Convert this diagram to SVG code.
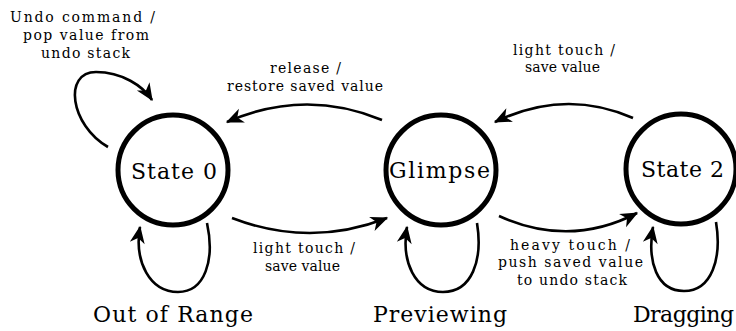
<svg xmlns="http://www.w3.org/2000/svg" width="736" height="331" viewBox="0 0 736 331">
<style>
.st{fill:none;stroke:#000;stroke-width:5}
.ar{fill:none;stroke:#000;stroke-width:2.6;marker-end:url(#ah)}
.nm{font-family:"DejaVu Serif","Liberation Serif",serif;font-size:22px;fill:#000}
.lb{font-family:"DejaVu Serif","Liberation Serif",serif;font-size:14px;fill:#000}
</style>
<defs>
<marker id="ah" markerUnits="userSpaceOnUse" markerWidth="20" markerHeight="20" viewBox="-14 -7 16 14" refX="0" refY="0" orient="auto">
<path d="M1,0 L-13,-6 L-9,0 L-13,6 Z" fill="#000"/>
</marker>
</defs>
<rect width="736" height="331" fill="#fff"/>
<g id="connectors">
<path class="ar" d="M382,120 Q305,88 227,122"/>
<path class="ar" d="M232,218 Q310,248 387,218"/>
<path class="ar" d="M633,118 Q565,88 495,122"/>
<path class="ar" d="M499,216 Q570,248 637,213"/>
<path class="ar" d="M108,147 C70,125 63,72 96,72 C122,72 143,86 152,100"/>
<path class="ar" d="M207,223 C215,260 205,292 178,292 C150,292 134,262 140,227"/>
<path class="ar" d="M477,223 C483,260 472,292 443,292 C415,292 401,262 407,227"/>
<path class="ar" d="M716,222 C722,258 712,291 684,291 C657,291 647,262 653,227"/>
</g>
<g id="labels">
<text class="lb" x="10" y="22" textLength="145" lengthAdjust="spacing">Undo command /</text>
<text class="lb" x="23" y="40" textLength="126" lengthAdjust="spacing">pop value from</text>
<text class="lb" x="41" y="58" textLength="89" lengthAdjust="spacing">undo stack</text>
<text class="lb" x="270" y="73" textLength="71" lengthAdjust="spacing">release /</text>
<text class="lb" x="227" y="91" textLength="156" lengthAdjust="spacing">restore saved value</text>
<text class="lb" x="513" y="55" textLength="102" lengthAdjust="spacing">light touch /</text>
<text class="lb" x="525" y="72" textLength="75" lengthAdjust="spacing">save value</text>
<text class="lb" x="253" y="253" textLength="102" lengthAdjust="spacing">light touch /</text>
<text class="lb" x="265" y="271" textLength="75" lengthAdjust="spacing">save value</text>
<text class="lb" x="510" y="250" textLength="120" lengthAdjust="spacing">heavy touch /</text>
<text class="lb" x="498" y="267" textLength="145" lengthAdjust="spacing">push saved value</text>
<text class="lb" x="517" y="285" textLength="110" lengthAdjust="spacing">to undo stack</text>
</g>
<g id="state0">
<circle class="st" cx="173" cy="170" r="55"/>
<text class="nm" x="131" y="179" textLength="86" lengthAdjust="spacing">State 0</text>
<text class="nm" x="93" y="322" textLength="160" lengthAdjust="spacing">Out of Range</text>
</g>
<g id="glimpse">
<circle class="st" cx="441" cy="170" r="55"/>
<text class="nm" x="389" y="178" textLength="101" lengthAdjust="spacing">Glimpse</text>
<text class="nm" x="373" y="322" textLength="134" lengthAdjust="spacing">Previewing</text>
</g>
<g id="state2">
<circle class="st" cx="681" cy="169" r="55"/>
<text class="nm" x="641" y="177" textLength="83" lengthAdjust="spacing">State 2</text>
<text class="nm" x="633" y="322" textLength="101" lengthAdjust="spacing">Dragging</text>
</g>
</svg>
